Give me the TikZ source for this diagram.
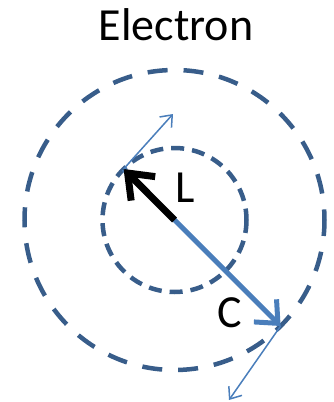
\documentclass[tikz,border=0pt]{standalone}
\usepackage{fontspec}
\setmainfont{Carlito}
\usetikzlibrary{arrows.meta}
\definecolor{ringblue}{HTML}{385D8A}
\definecolor{lineblue}{HTML}{4A7EBB}
\begin{document}
\begin{tikzpicture}[x=1pt,y=-1pt,
  ring/.style={draw=ringblue, line width=4.5pt},
  thinvec/.style={draw=lineblue, line width=1.5pt, -{Straight Barb[length=10pt,width=16pt]}},
  lbl/.style={font=\fontsize{46}{46}\selectfont, inner sep=0pt}]
\useasboundingbox (0,0) rectangle (333,402);
\coordinate (O) at (174.5,220);
\draw[ring, dash pattern=on 20pt off 16pt, dash phase=4pt] (O) circle (150);
\draw[ring, dash pattern=on 13pt off 8pt] (O) circle (72);
\coordinate (Pi) at (123.6,169);
\coordinate (Po) at (280.6,326);
\coordinate (T1) at (173,114);
\coordinate (T2) at (229,400);
\draw[lineblue, line width=5pt, -{Straight Barb[length=18pt,width=32pt]}] (Pi) -- (Po);
\draw[black, line width=7pt, -{Straight Barb[length=22pt,width=34pt]}] (O) -- (Pi);
\draw[thinvec] (Pi) -- (T1);
\draw[thinvec] (Po) -- (T2);
\node[lbl] (title) at (176,25) {Electron};
\node[lbl] (L) at (185,188) {L};
\node[lbl] (C) at (230,313) {C};
\end{tikzpicture}
\end{document}
